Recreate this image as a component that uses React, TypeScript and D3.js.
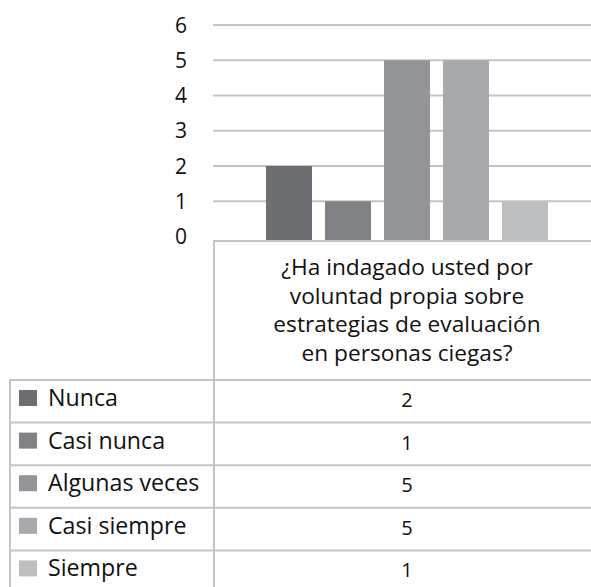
import React from "react";
import * as d3 from "d3";

const categories = ["¿Ha indagado usted por voluntad propia sobre estrategias de evaluación en personas ciegas?"];
const categoryLines = ["¿Ha indagado usted por", "voluntad propia sobre", "estrategias de evaluación", "en personas ciegas?"];
const series = ["Nunca", "Casi nunca", "Algunas veces", "Casi siempre", "Siempre"];
const values = [2, 1, 5, 5, 1];
const colors = ["#6d6e71", "#808184", "#939598", "#a7a9ac", "#bcbec0"];
const yTicks = [0, 1, 2, 3, 4, 5, 6];

const W = 591;
const H = 587;
const FONT = "'Open Sans', 'Noto Sans', sans-serif";
const GRID = "#c4c4c4";

export default function App() {
  const tableTop = 241;
  const plotLeft = 214;
  const plotRight = 600;
  const y = d3.scaleLinear().domain([0, 6]).range([236.5, 25]);
  const x0 = d3.scaleBand<string>().domain(categories).range([plotLeft, plotRight]);
  const x1 = d3
    .scaleBand<string>()
    .domain(series)
    .range([259.5, 554.5])
    .paddingInner(0.22)
    .paddingOuter(0.11);

  const rowTop = 380;
  const rowH = 42.6;
  const tableLeft = 10;
  const catCenter = (x0(categories[0]) as number) + x0.bandwidth() / 2;

  return (
    <svg width={W} height={H} style={{ position: "absolute", left: 0, top: 0, background: "#fff" }}>
      {/* gridlines */}
      {yTicks.filter((t) => t > 0).map((t) => (
        <line key={t} x1={213} x2={W} y1={y(t)} y2={y(t)} stroke={GRID} strokeWidth={2} />
      ))}
      {/* y labels */}
      {yTicks.map((t) => (
        <text key={"l" + t} x={181} y={y(t) + 7.5} textAnchor="middle" fontFamily={FONT} fontSize={21} fill="#111">
          {t}
        </text>
      ))}
      {/* bars */}
      {series.map((s, i) => (
        <rect key={s} x={x1(s)} y={y(values[i])} width={x1.bandwidth()} height={tableTop - y(values[i])} fill={colors[i]} />
      ))}
      {/* table borders */}
      <line x1={plotLeft} x2={W} y1={tableTop} y2={tableTop} stroke={GRID} strokeWidth={2} />
      <line x1={plotLeft} x2={plotLeft} y1={tableTop - 1} y2={H} stroke={GRID} strokeWidth={2} />
      <line x1={tableLeft} x2={tableLeft} y1={rowTop - 1} y2={H} stroke={GRID} strokeWidth={2} />
      {series.map((s, i) => (
        <line key={"r" + s} x1={tableLeft - 1} x2={W} y1={rowTop + i * rowH} y2={rowTop + i * rowH} stroke={GRID} strokeWidth={2} />
      ))}
      {/* category header */}
      {categoryLines.map((ln, i) => (
        <text key={ln} x={catCenter} y={275 + i * 28.5} textAnchor="middle" fontFamily={FONT} fontSize={22.7} fill="#111">
          {ln}
        </text>
      ))}
      {/* rows */}
      {series.map((s, i) => (
        <g key={"row" + s}>
          <rect x={19} y={rowTop + i * rowH + 10} width={18} height={16} fill={colors[i]} />
          <text x={48} y={rowTop + i * rowH + 26} fontFamily={FONT} fontSize={23.2} fill="#111">
            {s}
          </text>
          <text x={catCenter} y={rowTop + i * rowH + 27} textAnchor="middle" fontFamily={FONT} fontSize={20} fill="#111">
            {values[i]}
          </text>
        </g>
      ))}
    </svg>
  );
}
